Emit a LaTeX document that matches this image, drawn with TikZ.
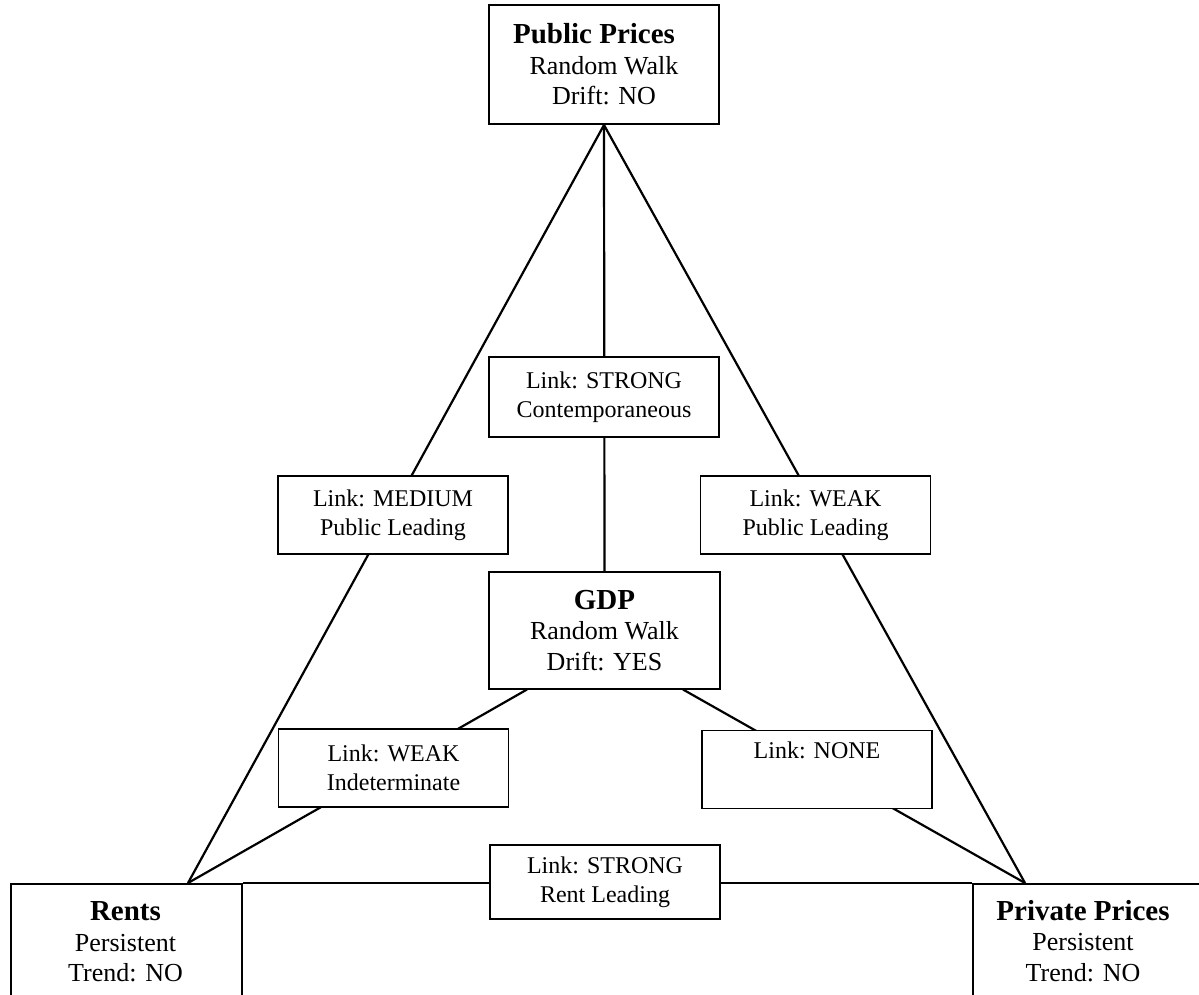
\documentclass[tikz,border=0pt]{standalone}
\usepackage{fontspec}
\setmainfont{Liberation Serif}
\usetikzlibrary{backgrounds}
\tikzset{
 linkbox/.style={draw, line width=0.9pt, fill=white, minimum width=115pt, minimum height=39pt, inner sep=0pt, align=center, font=\fontsize{12}{14.5}\selectfont},
 mainbox/.style={draw, line width=1pt, fill=white, inner sep=0pt, align=center, font=\fontsize{13}{15.25}\selectfont},
 basebox/.style={draw, line width=1pt, inner sep=0pt, anchor=north west},
 maintext/.style={inner sep=0pt, align=center, font=\fontsize{13}{15.25}\selectfont},
 conn/.style={line width=1.1pt},
}
\newcommand{\ttl}[1]{{\fontsize{14.5}{15.25}\selectfont\bfseries #1}}
\begin{document}
\begin{tikzpicture}[x=0.5pt,y=-0.5pt]
\useasboundingbox (0,0) rectangle (1199,995);
\clip (0,0) rectangle (1199,995);
\node[mainbox, minimum width=115pt, minimum height=59.5pt] (pub) at (604,64.5) {\ttl{Public Prices}\rule{10pt}{0pt}\\Random Walk\\Drift: NO};
\node[mainbox, minimum width=115.5pt, minimum height=58.5pt] (gdp) at (604.5,630.5) {\ttl{GDP}\\Random Walk\\Drift: YES};
\node[basebox, minimum width=115.5pt, minimum height=80pt] (rents) at (10,883) {};
\node[maintext] (rentsT) at (125.5,942) {\ttl{Rents}\\Persistent\\Trend: NO};
\node[basebox, minimum width=130pt, minimum height=80pt] (priv) at (972,883) {};
\node[maintext] (privT) at (1083,941) {\ttl{Private Prices}\\Persistent\\Trend: NO};
\node[linkbox, minimum height=40pt] (contemp) at (604,397) {Link: STRONG\\Contemporaneous};
\node[linkbox] (medium) at (393,515) {Link: MEDIUM\\Public Leading};
\node[linkbox] (weakpub) at (815.5,515) {Link: WEAK\\Public Leading};
\node[linkbox] (indet) at (393.5,768) {Link: WEAK\\Indeterminate};
\node[linkbox] (none) at (817,769.5) {Link: NONE\\\strut};
\node[linkbox, minimum height=37pt] (rentlead) at (605,882) {Link: STRONG\\Rent Leading};
\coordinate (rentsTop) at (188,883);
\coordinate (privTop) at (1025,883);
\coordinate (gdpL) at (527,689.5);
\coordinate (gdpR) at (683,689.5);
\begin{scope}[on background layer]
\draw[conn] (pub.south) -- (rentsTop);
\draw[conn] (pub.south) -- (privTop);
\draw[conn] (pub.south) -- (gdp.north);
\draw[conn] (gdpL) -- (rentsTop);
\draw[conn] (gdpR) -- (privTop);
\draw[conn] (rents.north east) -- (priv.north west);
\end{scope}
\end{tikzpicture}
\end{document}
